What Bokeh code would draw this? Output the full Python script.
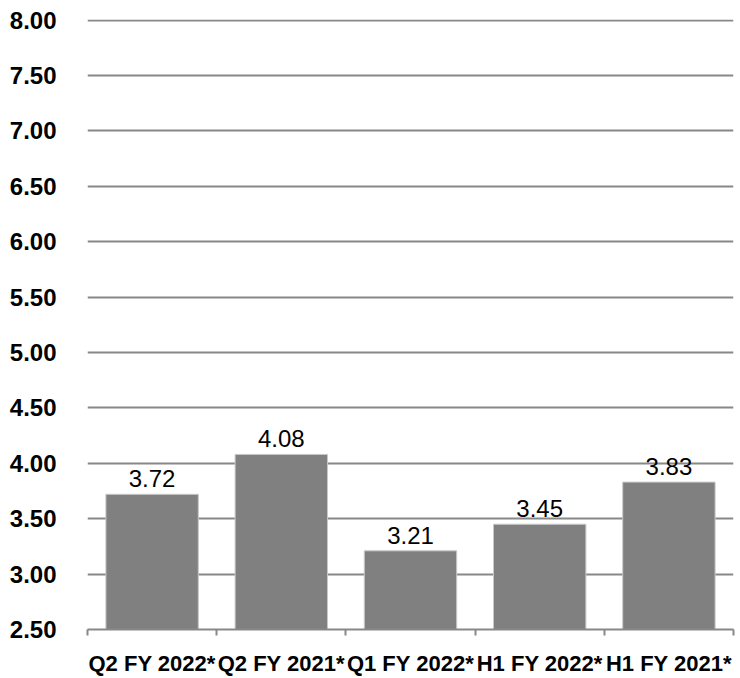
from bokeh.plotting import figure
from bokeh.models import Range1d, FixedTicker, NumeralTickFormatter, ColumnDataSource, LabelSet
from bokeh.core.properties import value
from bokeh.embed import file_html
from bokeh.resources import INLINE

categories = ["Q2 FY 2022*", "Q2 FY 2021*", "Q1 FY 2022*", "H1 FY 2022*", "H1 FY 2021*"]
values = [3.72, 4.08, 3.21, 3.45, 3.83]
labels = ["3.72", "4.08", "3.21", "3.45", "3.83"]
y_ticks = [2.5, 3.0, 3.5, 4.0, 4.5, 5.0, 5.5, 6.0, 6.5, 7.0, 7.5, 8.0]

n = len(categories)
centers = [i + 0.5 for i in range(n)]
bounds = [float(i) for i in range(n + 1)]

src = ColumnDataSource(dict(x=centers, val=values, lab=labels, base=[2.5] * n))

p = figure(x_range=Range1d(0, n), y_range=Range1d(2.5, 8.005), width=740, height=678,
           output_backend="svg", toolbar_location=None,
           min_border_left=87, min_border_right=7, min_border_top=19, min_border_bottom=40)
p.outline_line_color = None
p.background_fill_color = "white"

p.vbar(x="x", top="val", bottom="base", width=0.715, source=src,
       fill_color="#808080", line_color="#c8c8c8", line_width=1)

p.add_layout(LabelSet(x="x", y="val", text="lab", source=src, text_align="center",
                      text_baseline="alphabetic", y_offset=7, text_font=value("Liberation Sans"),
                      text_font_size="24px", text_color="black"))

p.xgrid.grid_line_color = None
p.ygrid.ticker = FixedTicker(ticks=y_ticks)
p.ygrid.grid_line_color = "#888888"
p.ygrid.grid_line_width = 2

p.yaxis.ticker = FixedTicker(ticks=y_ticks)
p.yaxis.formatter = NumeralTickFormatter(format="0.00")
p.yaxis.axis_line_color = None
p.yaxis.major_tick_line_color = None
p.yaxis.minor_tick_line_color = None
p.yaxis.major_label_standoff = 25
p.yaxis.major_label_text_font = "Liberation Sans"
p.yaxis.major_label_text_font_style = "bold"
p.yaxis.major_label_text_font_size = "24px"
p.yaxis.major_label_text_color = "black"

p.xaxis.ticker = FixedTicker(ticks=centers, minor_ticks=bounds)
p.xaxis.major_label_overrides = {c: lab for c, lab in zip(centers, categories)}
p.xaxis.axis_line_color = "#888888"
p.xaxis.axis_line_width = 2
p.xaxis.major_tick_line_color = None
p.xaxis.major_tick_out = 0
p.xaxis.major_tick_in = 0
p.xaxis.minor_tick_line_color = "#888888"
p.xaxis.minor_tick_line_width = 2
p.xaxis.minor_tick_out = 6
p.xaxis.minor_tick_in = 0
p.xaxis.major_label_standoff = 15
p.xaxis.major_label_text_font = "Liberation Sans"
p.xaxis.major_label_text_font_style = "bold"
p.xaxis.major_label_text_font_size = "22px"
p.xaxis.major_label_text_color = "black"

open("out.html", "w").write(file_html(p, INLINE))
